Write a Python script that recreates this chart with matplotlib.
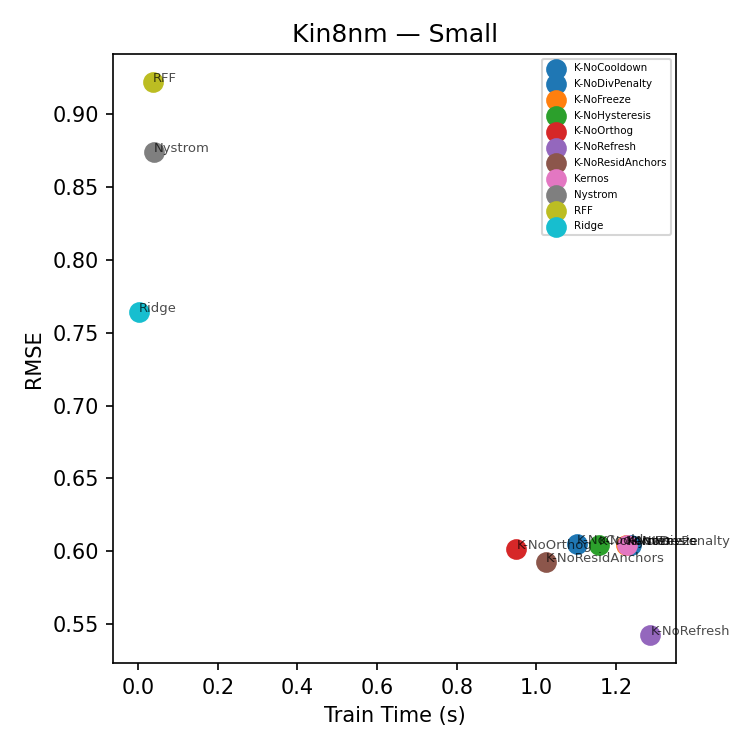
import matplotlib
matplotlib.use("Agg")
import matplotlib.pyplot as plt

names = ["K-NoCooldown", "K-NoDivPenalty", "K-NoFreeze", "K-NoHysteresis", "K-NoOrthog",
         "K-NoRefresh", "K-NoResidAnchors", "Kernos", "Nystrom", "RFF", "Ridge"]
train_time = [1.103, 1.238, 1.226, 1.158, 0.950, 1.287, 1.025, 1.228, 0.039, 0.037, 0.002]
rmse = [0.6048, 0.6045, 0.6045, 0.6041, 0.6018, 0.5425, 0.5925, 0.6046, 0.874, 0.922, 0.764]
colors = ["#1f77b4", "#1f77b4", "#ff7f0e", "#2ca02c", "#d62728", "#9467bd",
          "#8c564b", "#e377c2", "#7f7f7f", "#bcbd22", "#17becf"]

fig, ax = plt.subplots(figsize=(5, 5), dpi=150)
for n, x, y, c in zip(names, train_time, rmse, colors):
    ax.scatter(x, y, s=80, color=c, label=n)
    ax.text(x, y, n, fontsize=6.3, alpha=0.7)
ax.set_xlabel("Train Time (s)")
ax.set_ylabel("RMSE")
ax.set_title("Kin8nm — Small")
ax.legend(fontsize=4.9, labelspacing=0.57, loc="upper right")
fig.subplots_adjust(left=113.5/750, right=676/750, top=1 - 54/750, bottom=1 - 663/750)
fig.savefig("out.png", dpi=150)
